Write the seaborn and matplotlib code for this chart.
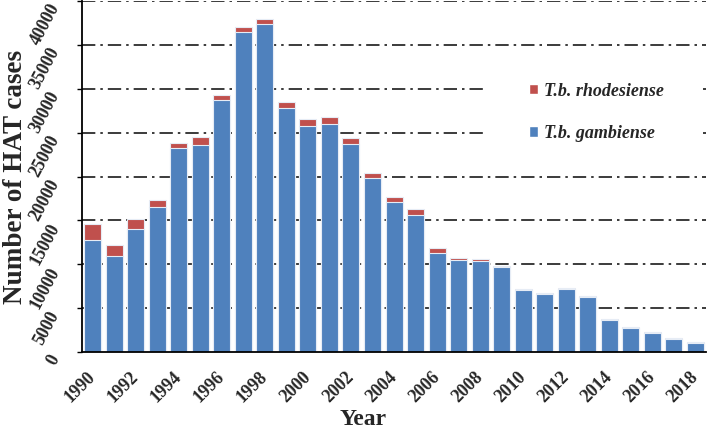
import numpy as np
import pandas as pd
import seaborn as sns
import matplotlib.pyplot as plt
from matplotlib.patches import Patch, Rectangle

# HAT cases per year
years = list(range(1990, 2019))
gambiense = [12740, 10920, 13990, 16570, 23240, 23600, 28750, 36520, 37350, 27840,
             25780, 26010, 23740, 19870, 17140, 15590, 11300, 10470, 10320, 9670,
             7020, 6600, 7130, 6220, 3640, 2760, 2130, 1480, 990]
rhodesiense = [1900, 1250, 1140, 760, 620, 900, 490, 570, 610, 640,
               800, 800, 680, 530, 490, 710, 530, 260, 230, 150,
               110, 110, 120, 120, 150, 120, 110, 110, 110]
tick_years = [str(y) if y % 2 == 0 else '' for y in years]
y_ticks = list(range(0, 40001, 5000))

data = pd.DataFrame({'year': [str(y) for y in years],
                     'gambiense': gambiense,
                     'rhodesiense': rhodesiense})
data['total'] = data['gambiense'] + data['rhodesiense']

sns.set_style('white')
plt.rcParams['font.family'] = ['Liberation Serif', 'DejaVu Serif']

blue = '#4F81BD'
red = '#C0504D'

fig = plt.figure(figsize=(7.08, 4.29), dpi=100)
ax = fig.add_axes([0.1158, 0.1795, 0.8814, 0.818])

# stacked bars: total (red) behind, gambiense (blue) in front
sns.barplot(x='year', y='total', data=data, color=red, saturation=1, width=0.79,
            edgecolor='#e6ecf5', linewidth=0.8, ax=ax, zorder=2)
sns.barplot(x='year', y='gambiense', data=data, color=blue, saturation=1, width=0.79,
            edgecolor='#e6ecf5', linewidth=0.8, ax=ax, zorder=3)

ax.set_ylim(0, 40000)
ax.set_xlim(-0.5, len(years) - 0.5)
ax.set_yticks(y_ticks)
ax.set_yticklabels([str(v) for v in y_ticks], rotation=62, rotation_mode='anchor',
                   fontweight='bold', fontsize=13, va='top', ha='right')
ax.set_xticks(range(len(years)))
ax.set_xticklabels(tick_years, rotation=45, ha='right', va='center', fontweight='bold',
                   fontsize=13, rotation_mode='anchor')
ax.tick_params(axis='x', length=0, pad=16)
ax.set_xticks(np.arange(-0.5, len(years), 1), minor=True)
ax.tick_params(axis='x', which='minor', length=3.6, width=1, color='black', direction='out')
ax.tick_params(axis='y', length=3.6, width=1, color='black', direction='out', left=True, pad=21)

# dash-dot grid
for v in y_ticks[1:]:
    ax.axhline(v, color='#1a1a1a', linestyle=(0, (8, 3, 1.5, 3)), linewidth=1.2, zorder=1)

for s in ['top', 'right']:
    ax.spines[s].set_visible(False)
for s in ['left', 'bottom']:
    ax.spines[s].set_color('black')
    ax.spines[s].set_linewidth(1.3)
    ax.spines[s].set_zorder(4)

ax.set_xlabel('Year', fontsize=17, fontweight='bold')
ax.xaxis.set_label_coords(0.45, -0.162)
ax.set_ylabel('Number of HAT cases', fontsize=19.5, fontweight='bold')
ax.yaxis.set_label_coords(-0.087, 0.5)

# white backdrop behind the legend
ax.add_patch(Rectangle((0.645, 0.545), 0.35, 0.285, transform=ax.transAxes,
                       facecolor='white', edgecolor='none', zorder=1.5))

handles = [Patch(facecolor=red, label='T.b. rhodesiense'),
           Patch(facecolor=blue, label='T.b. gambiense')]
leg = ax.legend(handles=handles, loc='center left', bbox_to_anchor=(0.717, 0.683),
                frameon=False, borderpad=0, borderaxespad=0,
                labelspacing=1.4, handlelength=0.5, handleheight=0.5, handletextpad=0.3,
                prop={'style': 'italic', 'weight': 'bold', 'size': 13, 'family': 'Liberation Serif'})
leg.set_zorder(5)

plt.savefig('out.png', dpi=100)
